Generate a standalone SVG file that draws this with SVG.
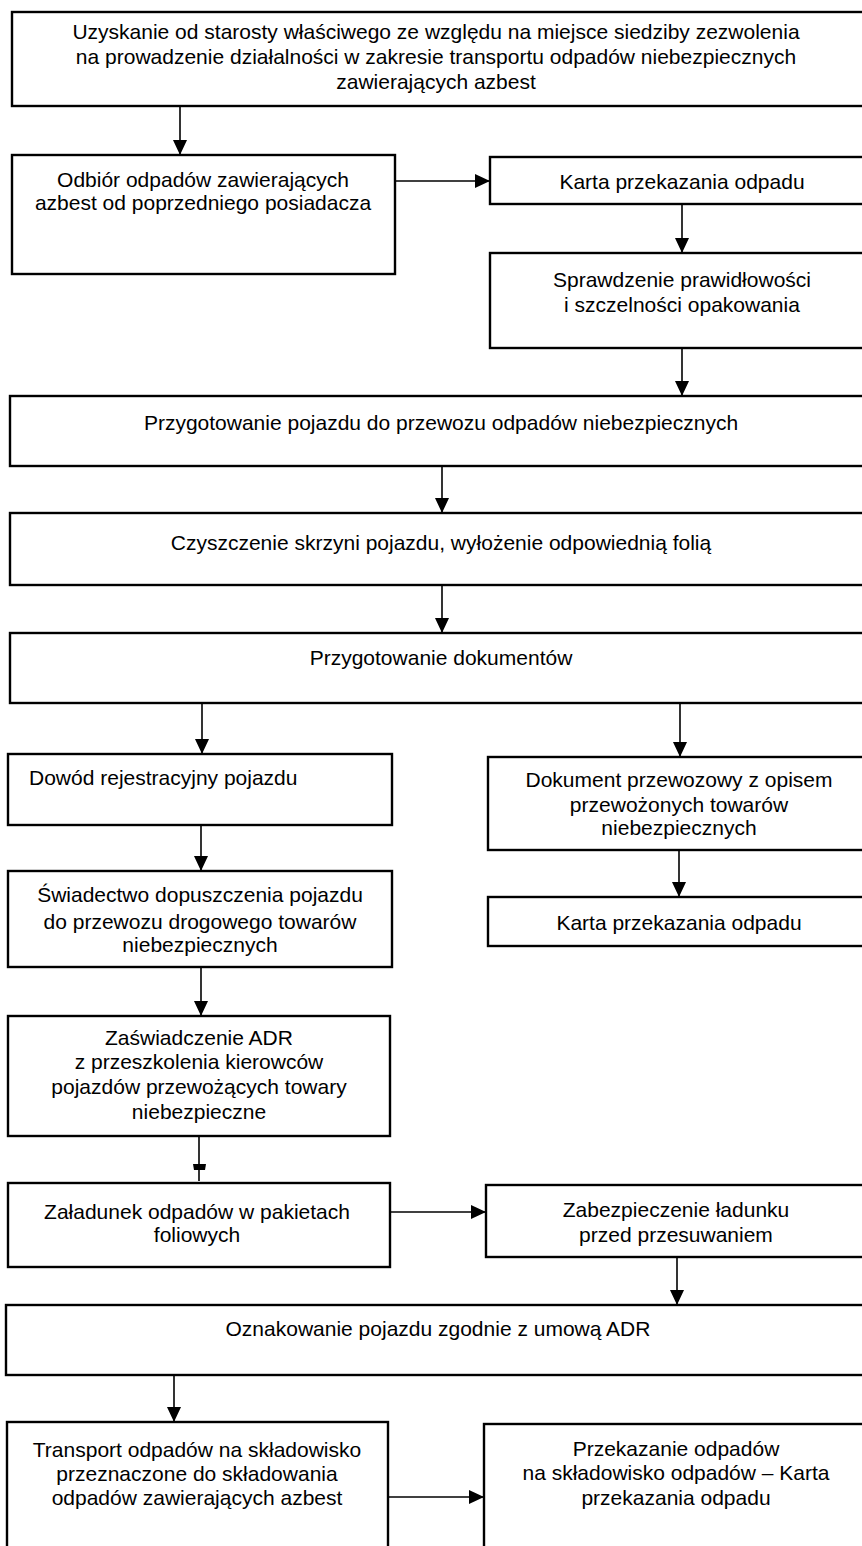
<svg xmlns="http://www.w3.org/2000/svg" width="862" height="1546" viewBox="0 0 862 1546">
<defs>
<marker id="ah" markerUnits="userSpaceOnUse" markerWidth="15" markerHeight="14" refX="15" refY="7" orient="auto">
<path d="M0,0 L15,7 L0,14 z" fill="#000"/>
</marker>
<style>
.b{fill:#fff;stroke:#000;stroke-width:2.4}
.t{font-family:"Liberation Sans",Arial,sans-serif;font-size:21px;fill:#000;text-anchor:middle}
.l{text-anchor:start}
.c{fill:none;stroke:#000;stroke-width:1.6}
</style>
</defs>
<rect width="862" height="1546" fill="#fff"/>
<g id="connectors">
<line class="c" x1="180" y1="106" x2="180" y2="155" marker-end="url(#ah)"/>
<line class="c" x1="395" y1="181" x2="490" y2="181" marker-end="url(#ah)"/>
<line class="c" x1="682" y1="204" x2="682" y2="253" marker-end="url(#ah)"/>
<line class="c" x1="682" y1="348" x2="682" y2="396" marker-end="url(#ah)"/>
<line class="c" x1="442" y1="466" x2="442" y2="513" marker-end="url(#ah)"/>
<line class="c" x1="442" y1="585" x2="442" y2="633" marker-end="url(#ah)"/>
<line class="c" x1="202" y1="703" x2="202" y2="754" marker-end="url(#ah)"/>
<line class="c" x1="680" y1="703" x2="680" y2="757" marker-end="url(#ah)"/>
<line class="c" x1="201" y1="825" x2="201" y2="871" marker-end="url(#ah)"/>
<line class="c" x1="679" y1="850" x2="679" y2="897" marker-end="url(#ah)"/>
<line class="c" x1="201" y1="967" x2="201" y2="1016" marker-end="url(#ah)"/>
<path class="c" d="M199,1136 V1181"/>
<path d="M193,1164 H206 L205,1170 H194 z" fill="#000"/>
<line class="c" x1="390" y1="1212" x2="486" y2="1212" marker-end="url(#ah)"/>
<line class="c" x1="677" y1="1257" x2="677" y2="1305" marker-end="url(#ah)"/>
<line class="c" x1="174" y1="1375" x2="174" y2="1422" marker-end="url(#ah)"/>
<line class="c" x1="388" y1="1497" x2="484" y2="1497" marker-end="url(#ah)"/>
</g>
<g id="n1">
<rect class="b" x="12" y="12" width="870" height="94"/>
<text class="t" x="436" y="39">Uzyskanie od starosty właściwego ze względu na miejsce siedziby zezwolenia</text>
<text class="t" x="436" y="64">na prowadzenie działalności w zakresie transportu odpadów niebezpiecznych</text>
<text class="t" x="436" y="89">zawierających azbest</text>
</g>
<g id="n2">
<rect class="b" x="12" y="155" width="383" height="119"/>
<text class="t" x="203" y="187">Odbiór odpadów zawierających</text>
<text class="t" x="203" y="210">azbest od poprzedniego posiadacza</text>
</g>
<g id="n3">
<rect class="b" x="490" y="157" width="390" height="47"/>
<text class="t" x="682" y="189">Karta przekazania odpadu</text>
</g>
<g id="n4">
<rect class="b" x="490" y="253" width="390" height="95"/>
<text class="t" x="682" y="287">Sprawdzenie prawidłowości</text>
<text class="t" x="682" y="312">i szczelności opakowania</text>
</g>
<g id="n5">
<rect class="b" x="10" y="396" width="870" height="70"/>
<text class="t" x="441" y="430">Przygotowanie pojazdu do przewozu odpadów niebezpiecznych</text>
</g>
<g id="n6">
<rect class="b" x="10" y="513" width="870" height="72"/>
<text class="t" x="441" y="550">Czyszczenie skrzyni pojazdu, wyłożenie odpowiednią folią</text>
</g>
<g id="n7">
<rect class="b" x="10" y="633" width="870" height="70"/>
<text class="t" x="441" y="665">Przygotowanie dokumentów</text>
</g>
<g id="n8">
<rect class="b" x="8" y="754" width="384" height="71"/>
<text class="t l" x="29" y="785">Dowód rejestracyjny pojazdu</text>
</g>
<g id="n9">
<rect class="b" x="488" y="757" width="390" height="93"/>
<text class="t" x="679" y="787">Dokument przewozowy z opisem</text>
<text class="t" x="679" y="812">przewożonych towarów</text>
<text class="t" x="679" y="835">niebezpiecznych</text>
</g>
<g id="n10">
<rect class="b" x="8" y="871" width="384" height="96"/>
<text class="t" x="200" y="902">Świadectwo dopuszczenia pojazdu</text>
<text class="t" x="200" y="929">do przewozu drogowego towarów</text>
<text class="t" x="200" y="952">niebezpiecznych</text>
</g>
<g id="n11">
<rect class="b" x="488" y="897" width="390" height="49"/>
<text class="t" x="679" y="930">Karta przekazania odpadu</text>
</g>
<g id="n12">
<rect class="b" x="8" y="1016" width="382" height="120"/>
<text class="t" x="199" y="1045">Zaświadczenie ADR</text>
<text class="t" x="199" y="1069">z przeszkolenia kierowców</text>
<text class="t" x="199" y="1094">pojazdów przewożących towary</text>
<text class="t" x="199" y="1119">niebezpieczne</text>
</g>
<g id="n13">
<rect class="b" x="8" y="1183" width="382" height="84"/>
<text class="t" x="197" y="1219">Załadunek odpadów w pakietach</text>
<text class="t" x="197" y="1242">foliowych</text>
</g>
<g id="n14">
<rect class="b" x="486" y="1185" width="392" height="72"/>
<text class="t" x="676" y="1217">Zabezpieczenie ładunku</text>
<text class="t" x="676" y="1242">przed przesuwaniem</text>
</g>
<g id="n15">
<rect class="b" x="6" y="1305" width="874" height="70"/>
<text class="t" x="438" y="1336">Oznakowanie pojazdu zgodnie z umową ADR</text>
</g>
<g id="n16">
<rect class="b" x="7" y="1422" width="381" height="140"/>
<text class="t" x="197" y="1457">Transport odpadów na składowisko</text>
<text class="t" x="197" y="1481">przeznaczone do składowania</text>
<text class="t" x="197" y="1505">odpadów zawierających azbest</text>
</g>
<g id="n17">
<rect class="b" x="484" y="1424" width="396" height="140"/>
<text class="t" x="676" y="1456">Przekazanie odpadów</text>
<text class="t" x="676" y="1480">na składowisko odpadów – Karta</text>
<text class="t" x="676" y="1505">przekazania odpadu</text>
</g>
</svg>
